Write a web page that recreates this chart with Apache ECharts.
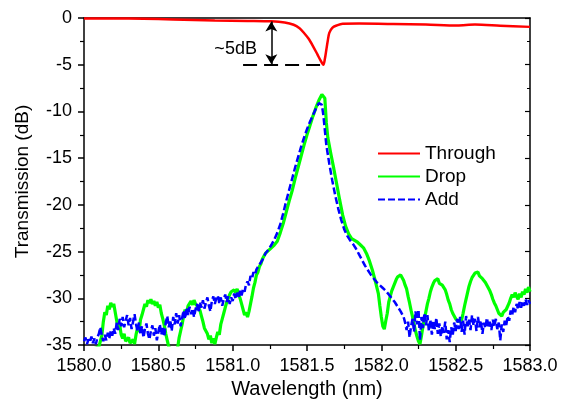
<!DOCTYPE html>
<html>
<head>
<meta charset="utf-8">
<script src="https://cdn.jsdelivr.net/npm/echarts@6/dist/echarts.min.js"></script>
<style>html,body{margin:0;padding:0;background:#fff}#c{width:561px;height:405px}</style>
</head>
<body>
<div id="c"></div>
<script>
// ---- Data ----
const xTicks = [1580.0, 1580.5, 1581.0, 1581.5, 1582.0, 1582.5, 1583.0];
const yTicks = [-35, -30, -25, -20, -15, -10, -5, 0];

const throughX = [1580.00,1580.20,1580.40,1580.60,1580.88,1581.10,1581.26,1581.35,1581.41,1581.45,1581.48,1581.51,1581.54,1581.57,1581.59,1581.61,1581.62,1581.63,1581.64,1581.65,1581.67,1581.70,1581.74,1581.85,1582.08,1582.30,1582.51,1582.63,1582.80,1583.00];
const throughY = [-0.05,-0.06,-0.08,-0.15,-0.28,-0.32,-0.36,-0.48,-0.72,-1.1,-1.6,-2.2,-3.0,-3.9,-4.5,-5.0,-4.4,-3.4,-2.4,-1.6,-1.05,-0.8,-0.62,-0.6,-0.64,-0.7,-0.8,-0.7,-0.82,-0.95];

const dropX = [1580.00,1580.05,1580.10,1580.12,1580.13,1580.14,1580.15,1580.16,1580.17,1580.18,1580.19,1580.20,1580.21,1580.22,1580.23,1580.24,1580.25,1580.26,1580.27,1580.28,1580.30,1580.31,1580.33,1580.34,1580.35,1580.36,1580.37,1580.38,1580.39,1580.40,1580.41,1580.42,1580.43,1580.44,1580.45,1580.46,1580.47,1580.48,1580.49,1580.50,1580.51,1580.52,1580.53,1580.54,1580.55,1580.56,1580.57,1580.60,1580.63,1580.64,1580.65,1580.66,1580.67,1580.68,1580.69,1580.70,1580.71,1580.72,1580.73,1580.74,1580.75,1580.76,1580.77,1580.78,1580.79,1580.80,1580.81,1580.82,1580.83,1580.84,1580.85,1580.86,1580.87,1580.88,1580.89,1580.90,1580.91,1580.92,1580.93,1580.94,1580.95,1580.96,1580.97,1580.98,1580.99,1581.00,1581.01,1581.02,1581.03,1581.04,1581.05,1581.06,1581.07,1581.08,1581.09,1581.10,1581.11,1581.12,1581.13,1581.14,1581.15,1581.16,1581.17,1581.18,1581.19,1581.20,1581.21,1581.22,1581.24,1581.26,1581.28,1581.30,1581.32,1581.34,1581.36,1581.38,1581.40,1581.42,1581.44,1581.46,1581.48,1581.50,1581.52,1581.54,1581.56,1581.58,1581.60,1581.61,1581.62,1581.63,1581.64,1581.66,1581.68,1581.70,1581.72,1581.74,1581.76,1581.78,1581.80,1581.82,1581.84,1581.86,1581.88,1581.90,1581.92,1581.94,1581.96,1581.98,1581.99,1582.00,1582.01,1582.02,1582.03,1582.04,1582.05,1582.06,1582.07,1582.08,1582.09,1582.10,1582.11,1582.12,1582.13,1582.14,1582.15,1582.16,1582.17,1582.18,1582.19,1582.20,1582.21,1582.22,1582.23,1582.24,1582.25,1582.26,1582.27,1582.28,1582.29,1582.30,1582.31,1582.32,1582.33,1582.34,1582.35,1582.36,1582.37,1582.38,1582.39,1582.40,1582.41,1582.42,1582.43,1582.44,1582.45,1582.46,1582.47,1582.48,1582.49,1582.50,1582.51,1582.52,1582.53,1582.54,1582.55,1582.56,1582.57,1582.58,1582.59,1582.60,1582.61,1582.62,1582.63,1582.64,1582.65,1582.66,1582.67,1582.68,1582.69,1582.70,1582.71,1582.72,1582.73,1582.74,1582.75,1582.76,1582.77,1582.78,1582.79,1582.80,1582.81,1582.82,1582.83,1582.84,1582.85,1582.86,1582.87,1582.88,1582.89,1582.90,1582.91,1582.92,1582.93,1582.94,1582.95,1582.96,1582.97,1582.98,1582.99,1583.00];
const dropY = [-35.8,-35.5,-35.2,-34.0,-32.5,-31.5,-31.8,-30.8,-31.2,-30.5,-30.9,-30.6,-31.5,-32.4,-33.3,-32.8,-33.9,-34.3,-33.8,-34.6,-34.2,-34.8,-34.4,-34.9,-33.9,-33.2,-33.6,-32.3,-31.8,-31.2,-30.6,-30.9,-30.2,-30.5,-30.1,-30.6,-30.3,-30.8,-30.4,-31.0,-30.7,-31.6,-32.2,-32.9,-33.8,-34.5,-35.2,-35.6,-35.3,-34.2,-33.5,-32.8,-31.9,-31.2,-31.6,-30.8,-30.9,-30.3,-30.7,-30.2,-30.6,-30.4,-31.0,-31.3,-31.9,-32.5,-33.2,-33.0,-33.8,-34.4,-34.0,-34.8,-34.3,-34.9,-34.2,-33.6,-33.9,-32.8,-32.2,-31.6,-31.0,-30.4,-30.0,-29.6,-29.3,-29.5,-29.1,-29.4,-29.0,-29.6,-30.0,-30.6,-31.2,-31.8,-31.5,-32.0,-31.4,-30.6,-29.8,-28.9,-28.3,-27.5,-27.2,-26.6,-26.3,-25.8,-25.5,-25.2,-24.9,-24.6,-24.3,-23.9,-23.0,-22.0,-20.8,-19.6,-18.5,-17.2,-16.0,-14.8,-13.6,-12.5,-11.5,-10.5,-9.6,-8.8,-8.2,-8.0,-8.6,-11.2,-12.8,-14.5,-16.1,-17.8,-19.5,-21.1,-22.3,-23.1,-23.6,-23.8,-24.0,-24.3,-24.6,-25.2,-26.0,-27.0,-28.2,-29.5,-30.8,-32.0,-33.0,-33.3,-32.4,-31.6,-30.4,-29.8,-29.2,-28.8,-28.4,-28.0,-27.7,-27.9,-27.5,-27.8,-28.1,-28.6,-29.0,-29.8,-30.5,-31.3,-32.0,-32.8,-33.5,-34.1,-34.6,-34.9,-34.0,-33.0,-32.2,-31.4,-30.6,-30.0,-29.3,-28.8,-28.4,-28.1,-28.3,-27.9,-28.4,-28.2,-28.6,-28.5,-29.1,-29.6,-30.2,-30.6,-31.2,-31.6,-31.9,-32.2,-32.4,-32.5,-32.7,-32.3,-31.6,-30.8,-30.1,-29.4,-28.7,-28.2,-27.8,-27.6,-27.3,-27.5,-27.2,-27.6,-27.4,-27.9,-27.8,-28.3,-28.4,-28.9,-29.2,-29.6,-30.1,-30.5,-30.8,-31.2,-31.6,-31.4,-31.9,-31.5,-31.7,-31.2,-31.0,-30.5,-30.0,-29.6,-29.9,-29.4,-29.8,-30.1,-29.5,-29.9,-29.3,-29.6,-29.0,-29.4,-28.8,-29.3,-29.0,-29.5];

const addX = [1580.00,1580.01,1580.02,1580.03,1580.04,1580.05,1580.06,1580.07,1580.08,1580.09,1580.10,1580.11,1580.12,1580.13,1580.14,1580.15,1580.16,1580.17,1580.18,1580.19,1580.20,1580.21,1580.22,1580.23,1580.24,1580.25,1580.26,1580.27,1580.28,1580.29,1580.30,1580.31,1580.32,1580.33,1580.34,1580.35,1580.36,1580.37,1580.38,1580.39,1580.40,1580.41,1580.42,1580.43,1580.44,1580.45,1580.46,1580.47,1580.48,1580.49,1580.50,1580.51,1580.52,1580.53,1580.54,1580.55,1580.56,1580.57,1580.58,1580.59,1580.60,1580.61,1580.62,1580.63,1580.64,1580.65,1580.66,1580.67,1580.68,1580.69,1580.70,1580.71,1580.72,1580.73,1580.74,1580.75,1580.76,1580.77,1580.78,1580.79,1580.80,1580.81,1580.82,1580.83,1580.84,1580.85,1580.86,1580.87,1580.88,1580.89,1580.90,1580.91,1580.92,1580.93,1580.94,1580.95,1580.96,1580.97,1580.98,1580.99,1581.00,1581.01,1581.02,1581.03,1581.04,1581.05,1581.06,1581.07,1581.08,1581.09,1581.10,1581.11,1581.12,1581.13,1581.14,1581.15,1581.16,1581.17,1581.18,1581.19,1581.20,1581.21,1581.22,1581.24,1581.26,1581.28,1581.30,1581.32,1581.34,1581.36,1581.38,1581.40,1581.42,1581.44,1581.46,1581.48,1581.50,1581.52,1581.54,1581.56,1581.58,1581.59,1581.60,1581.61,1581.62,1581.63,1581.65,1581.67,1581.69,1581.71,1581.73,1581.75,1581.77,1581.79,1581.81,1581.83,1581.85,1581.87,1581.89,1581.91,1581.93,1581.95,1581.97,1581.99,1582.01,1582.03,1582.05,1582.07,1582.09,1582.11,1582.13,1582.15,1582.16,1582.17,1582.18,1582.19,1582.20,1582.21,1582.22,1582.23,1582.24,1582.25,1582.26,1582.27,1582.28,1582.29,1582.30,1582.31,1582.32,1582.33,1582.34,1582.35,1582.36,1582.37,1582.38,1582.39,1582.40,1582.41,1582.42,1582.43,1582.44,1582.45,1582.46,1582.47,1582.48,1582.49,1582.50,1582.51,1582.52,1582.53,1582.54,1582.55,1582.56,1582.57,1582.58,1582.59,1582.60,1582.61,1582.62,1582.63,1582.64,1582.65,1582.66,1582.67,1582.68,1582.69,1582.70,1582.71,1582.72,1582.73,1582.74,1582.75,1582.76,1582.77,1582.78,1582.79,1582.80,1582.81,1582.82,1582.83,1582.84,1582.85,1582.86,1582.87,1582.88,1582.89,1582.90,1582.91,1582.92,1582.93,1582.94,1582.95,1582.96,1582.97,1582.98,1582.99,1583.00];
const addY = [-34.6,-34.2,-34.9,-34.4,-34.7,-34.1,-34.8,-34.3,-34.9,-34.2,-33.8,-33.1,-34.0,-34.6,-33.9,-34.5,-33.7,-34.3,-33.5,-34.0,-33.2,-33.8,-32.6,-33.4,-32.2,-33.0,-32.0,-33.1,-32.4,-31.8,-32.9,-32.1,-33.3,-32.5,-31.7,-32.8,-33.5,-32.6,-33.9,-33.0,-34.2,-33.3,-32.7,-33.8,-34.4,-33.5,-32.9,-34.0,-33.2,-34.5,-33.6,-32.8,-33.9,-33.0,-34.1,-32.6,-31.9,-33.1,-32.3,-33.5,-32.0,-32.8,-31.6,-32.7,-31.8,-33.0,-32.1,-31.3,-32.2,-31.0,-31.8,-30.9,-31.7,-31.1,-32.0,-31.2,-30.6,-31.5,-30.4,-31.0,-30.2,-31.1,-30.5,-29.9,-30.8,-31.4,-30.3,-29.8,-30.6,-30.0,-29.7,-30.5,-29.9,-30.8,-30.1,-29.6,-30.4,-29.8,-30.6,-29.9,-30.3,-29.5,-30.1,-29.4,-29.9,-29.2,-29.7,-29.0,-29.3,-28.5,-28.2,-28.6,-27.6,-27.9,-27.2,-27.5,-26.9,-27.1,-26.4,-26.6,-25.9,-25.6,-25.2,-24.8,-24.3,-23.7,-23.0,-22.1,-20.9,-19.6,-18.4,-17.2,-16.0,-14.9,-13.8,-12.8,-11.9,-11.1,-10.4,-9.7,-9.1,-8.95,-9.3,-10.4,-12.0,-13.6,-15.6,-17.4,-19.0,-20.4,-21.6,-22.6,-23.3,-23.8,-24.2,-24.7,-25.3,-25.9,-26.5,-27.0,-27.5,-27.9,-28.3,-28.6,-28.9,-29.2,-29.6,-30.0,-30.4,-30.9,-31.4,-32.0,-32.6,-33.4,-32.5,-34.2,-33.0,-32.2,-33.6,-31.4,-32.8,-31.2,-34.5,-32.0,-33.2,-31.6,-32.9,-31.8,-33.5,-32.3,-33.9,-32.4,-33.3,-32.1,-33.8,-32.7,-34.1,-33.0,-33.7,-32.5,-34.4,-33.4,-34.7,-33.1,-34.0,-32.6,-33.5,-32.2,-33.3,-32.0,-33.6,-32.4,-33.9,-31.9,-33.0,-32.3,-33.4,-31.8,-32.9,-32.2,-33.5,-32.0,-33.1,-32.4,-33.8,-32.6,-33.2,-32.1,-33.0,-32.5,-33.4,-32.3,-33.0,-32.2,-33.3,-32.6,-34.5,-32.8,-33.6,-32.4,-32.9,-31.9,-32.4,-31.3,-31.8,-30.9,-31.5,-30.6,-31.2,-30.4,-31.0,-30.3,-30.8,-30.1,-30.7,-30.2,-30.6];

// ---- Build ----
const zip = (xs, ys) => xs.map((x, i) => [x, ys[i]]);
const FONT = 'Liberation Sans, Arial, Helvetica, sans-serif';

const chart = echarts.init(document.getElementById('c'), null, {renderer: 'canvas'});
const axisLineStyle = {color: '#000', width: 1.5};

chart.setOption({
  animation: false,
  backgroundColor: '#fff',
  textStyle: {fontFamily: FONT},
  grid: {left: 84, right: 31, top: 18, bottom: 60, containLabel: false},
  legend: {
    left: 372, top: 139, orient: 'vertical',
    itemWidth: 42, itemHeight: 12, itemGap: 4,
    itemStyle: {opacity: 0},
    textStyle: {fontFamily: FONT, fontSize: 19, color: '#000', lineHeight: 19, padding: [0,0,0,0]},
    data: ['Through', 'Drop', 'Add']
  },
  xAxis: [{
    type: 'value', min: 1580, max: 1583, interval: 0.5,
    name: 'Wavelength (nm)', nameLocation: 'middle', nameGap: 31,
    nameTextStyle: {fontFamily: FONT, fontSize: 20, color: '#000'},
    axisLine: {show: true, onZero: false, lineStyle: axisLineStyle},
    axisTick: {show: true, inside: false, length: 6, lineStyle: {color: '#000', width: 1.5}},
    minorTick: {show: true, splitNumber: 2, length: 4, lineStyle: {color: '#000', width: 1.2}},
    axisLabel: {fontFamily: FONT, fontSize: 18, color: '#000', margin: 12, formatter: v => v.toFixed(1)},
    splitLine: {show: false}
  }, {
    type: 'value', position: 'top', min: 1580, max: 1583, interval: 0.5,
    axisLine: {show: true, onZero: false, lineStyle: axisLineStyle},
    axisTick: {show: false}, axisLabel: {show: false}, splitLine: {show: false}
  }],
  yAxis: [{
    type: 'value', min: -35, max: 0, interval: 5,
    name: 'Transmission (dB)', nameLocation: 'middle', nameGap: 52,
    nameTextStyle: {fontFamily: FONT, fontSize: 19, color: '#000'},
    axisLine: {show: true, onZero: false, lineStyle: axisLineStyle},
    axisTick: {show: true, inside: false, length: 6, lineStyle: {color: '#000', width: 1.5}},
    minorTick: {show: true, splitNumber: 2, length: 4, lineStyle: {color: '#000', width: 1.2}},
    axisLabel: {fontFamily: FONT, fontSize: 18, color: '#000', margin: 12,
      formatter: v => yTicks.indexOf(v) >= 0 ? String(v) : ''},
    splitLine: {show: false}
  }, {
    type: 'value', position: 'right', min: -35, max: 0, interval: 5,
    axisLine: {show: true, onZero: false, lineStyle: axisLineStyle},
    axisTick: {show: true, inside: true, length: 5, lineStyle: {color: '#000', width: 1.2}},
    minorTick: {show: true, splitNumber: 2, length: 3, lineStyle: {color: '#000', width: 1}},
    axisLabel: {show: false}, splitLine: {show: false}
  }],
  series: [{
    name: 'Through', type: 'line', data: zip(throughX, throughY),
    showSymbol: false, symbol: 'none', smooth: 0.3,
    lineStyle: {color: '#ff0000', width: 2.5}, itemStyle: {color: '#ff0000'},
    markLine: {
      silent: true, animation: false,
      label: {show: false},
      data: [
        [{coord: [1581.07, -5], symbol: 'none', lineStyle: {color: '#000', width: 2, type: [14, 7]}},
         {coord: [1581.61, -5], symbol: 'none'}],
        [{coord: [1581.26, -0.38], symbol: 'arrow', symbolSize: [9, 10], lineStyle: {color: '#000', width: 1.5, type: 'solid'}},
         {coord: [1581.26, -4.95], symbol: 'arrow', symbolSize: [9, 10]}]
      ]
    },
    markPoint: {
      silent: true, animation: false,
      data: [{coord: [1581.02, -3.3], symbol: 'rect', symbolSize: 1,
        itemStyle: {color: 'rgba(0,0,0,0)'},
        label: {show: true, position: 'inside', formatter: '~5dB', color: '#000', fontFamily: FONT, fontSize: 18}}]
    }
  }, {
    name: 'Drop', type: 'line', data: zip(dropX, dropY),
    showSymbol: false, symbol: 'none',
    lineStyle: {color: '#00ff00', width: 3.2}, itemStyle: {color: '#00ff00'}
  }, {
    name: 'Add', type: 'line', data: zip(addX, addY),
    showSymbol: false, symbol: 'none',
    lineStyle: {color: '#0000ff', width: 2.5, type: [7, 3]}, itemStyle: {color: '#0000ff'}
  }]
});
</script>
</body>
</html>
